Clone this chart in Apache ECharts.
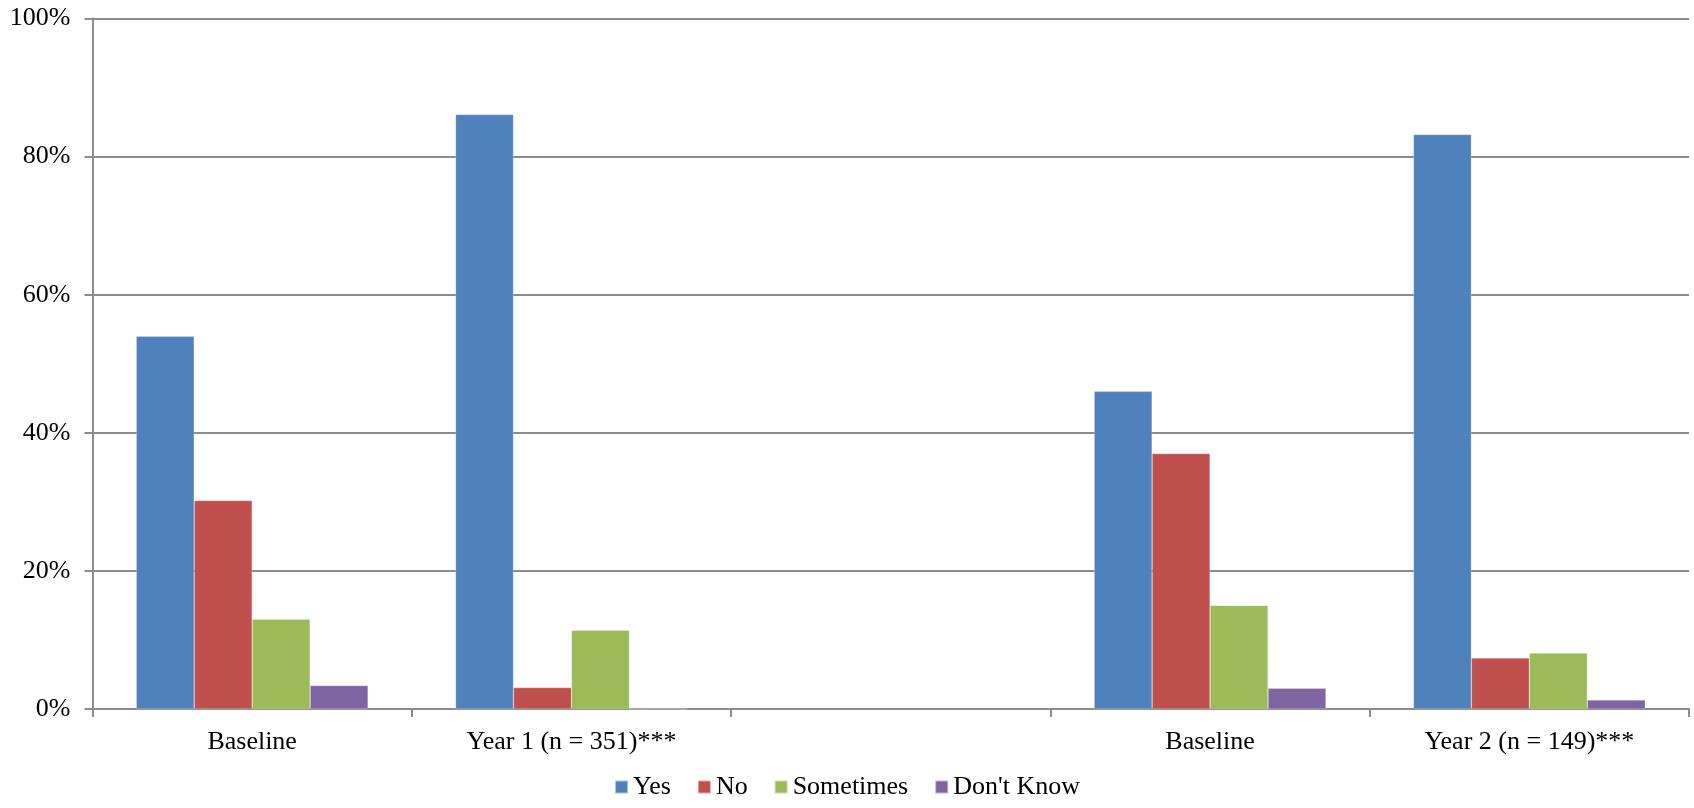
<!DOCTYPE html>
<html>
<head>
<meta charset="utf-8">
<script src="https://cdn.jsdelivr.net/npm/echarts@6/dist/echarts.min.js"></script>
<style>
  html, body { margin: 0; padding: 0; background: #ffffff; }
  #chart { width: 1694px; height: 808px; }
</style>
</head>
<body>
<div id="chart"></div>
<script>
// Response shares (%) by survey wave; the middle slot is an empty spacer between cohorts
const categories = ['Baseline', 'Year 1 (n = 351)***', '', 'Baseline', 'Year 2 (n = 149)***'];
const yesValues = [54.0, 86.1, null, 46.0, 83.2];
const noValues = [30.2, 3.1, null, 37.0, 7.4];
const sometimesValues = [13.0, 11.4, null, 15.0, 8.1];
const dontKnowValues = [3.4, 0, null, 3.0, 1.3];
const seriesNames = ['Yes', 'No', 'Sometimes', "Don't Know"];
const seriesColors = ['#4F81BD', '#C0504D', '#9BBB59', '#8064A2'];

const seriesValues = [yesValues, noValues, sometimesValues, dontKnowValues];
const fontFamily = '"Liberation Serif", "Times New Roman", serif';
const gridColor = '#8c8c8c';

const chart = echarts.init(document.getElementById('chart'), null, { renderer: 'canvas' });

chart.setOption({
  animation: false,
  backgroundColor: '#ffffff',
  textStyle: { fontFamily: fontFamily, color: '#000000' },
  grid: { left: 92.5, right: 5, top: 18.5, bottom: 99, containLabel: false },
  legend: {
    data: seriesNames,
    bottom: 3,
    left: 'center',
    icon: 'rect',
    itemWidth: 13,
    itemHeight: 13,
    itemGap: 26,
    textStyle: { fontFamily: fontFamily, fontSize: 26, color: '#000000', padding: [0, 0, 0, 0] }
  },
  xAxis: {
    type: 'category',
    data: categories,
    boundaryGap: true,
    axisLine: { lineStyle: { color: gridColor, width: 2 } },
    axisTick: { show: true, length: 8, lineStyle: { color: gridColor, width: 2 } },
    axisLabel: { fontFamily: fontFamily, fontSize: 26, color: '#000000', margin: 20, interval: 0 },
    splitLine: { show: false }
  },
  yAxis: {
    type: 'value',
    min: 0,
    max: 100,
    interval: 20,
    axisLine: { show: true, lineStyle: { color: gridColor, width: 2 } },
    axisTick: { show: true, length: 8, lineStyle: { color: gridColor, width: 2 } },
    axisLabel: { formatter: '{value}%', fontFamily: fontFamily, fontSize: 26, color: '#000000', margin: 22 },
    splitLine: { show: true, lineStyle: { color: gridColor, width: 2 } }
  },
  series: seriesNames.map((name, i) => ({
    name: name,
    type: 'bar',
    data: seriesValues[i],
    barGap: '0%',
    barCategoryGap: '27.4%',
    itemStyle: { color: seriesColors[i], borderColor: 'rgba(255,255,255,0.5)', borderWidth: 0.5 }
  }))
});
</script>
</body>
</html>
